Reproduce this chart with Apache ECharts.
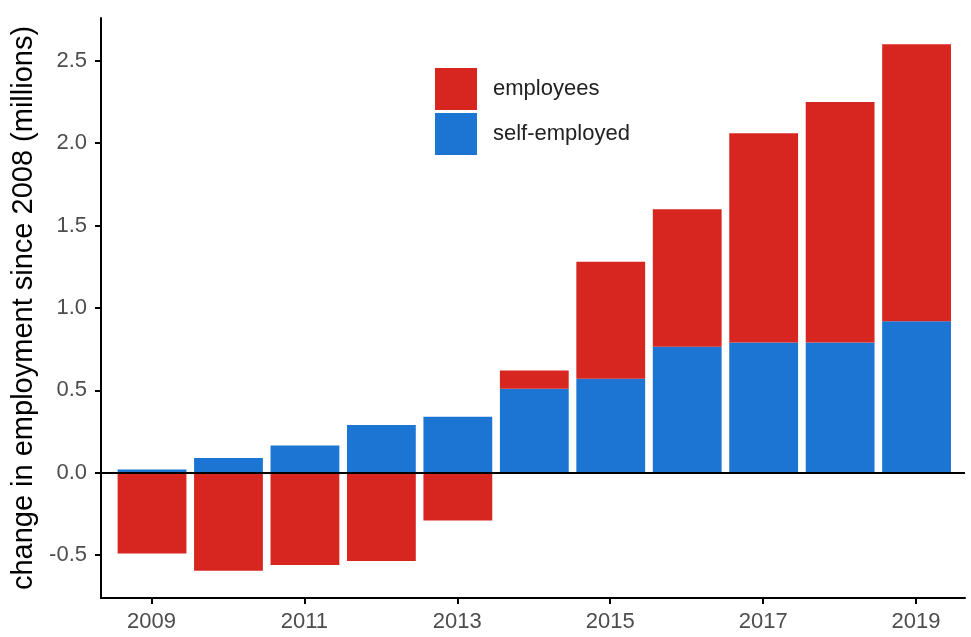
<!DOCTYPE html>
<html>
<head>
<meta charset="utf-8">
<script src="https://cdn.jsdelivr.net/npm/echarts@6/dist/echarts.min.js"></script>
<style>html,body{margin:0;padding:0;background:#fff;}#c{width:971px;height:637px;}</style>
</head>
<body>
<div id="c"></div>
<script>
const years = ['2009', '2010', '2011', '2012', '2013', '2014', '2015', '2016', '2017', '2018', '2019'];
const selfEmployed = [0.02, 0.09, 0.165, 0.29, 0.34, 0.51, 0.57, 0.765, 0.79, 0.79, 0.92];
const employees = [-0.49, -0.595, -0.56, -0.535, -0.29, 0.11, 0.71, 0.835, 1.27, 1.46, 1.68];
const xTickLabels = [2009, 2011, 2013, 2015, 2017, 2019];
const yTickValues = [-0.5, 0, 0.5, 1.0, 1.5, 2.0, 2.5];

const FONT = '"Liberation Sans", Arial, Helvetica, sans-serif';
const RED = '#d7261f';
const BLUE = '#1c74d3';
const YMIN = -0.76, YMAX = 2.76;

const chart = echarts.init(document.getElementById('c'), null, {renderer: 'canvas'});
chart.setOption({
  animation: false,
  backgroundColor: '#ffffff',
  textStyle: {fontFamily: FONT},
  grid: [
    {left: 101, right: 6, top: 18, bottom: 39, containLabel: false},
    {left: 113.8, right: 16.2, top: 18, bottom: 39, containLabel: false}
  ],
  legend: {
    orient: 'vertical',
    left: 435, top: 68, padding: 0,
    itemWidth: 42, itemHeight: 42, itemGap: 3,
    icon: 'rect',
    data: ['employees', 'self-employed'],
    textStyle: {fontFamily: FONT, fontSize: 22, color: '#222', padding: [0, 0, 0, 11]}
  },
  xAxis: [
    {
      gridIndex: 0,
      type: 'value',
      min: 2008.34, max: 2019.64,
      axisLine: {show: true, onZero: false, lineStyle: {color: '#000', width: 2}},
      axisTick: {show: true, length: 6, customValues: xTickLabels, lineStyle: {color: '#000', width: 2}},
      axisLabel: {customValues: xTickLabels, fontSize: 22, color: '#4d4d4d', margin: 13, fontFamily: FONT,
        formatter: v => String(v)},
      splitLine: {show: false}
    },
    {
      gridIndex: 1,
      type: 'category',
      data: years,
      show: false
    }
  ],
  yAxis: [
    {
      gridIndex: 0,
      type: 'value',
      min: YMIN, max: YMAX,
      name: 'change in employment since 2008 (millions)',
      nameLocation: 'middle',
      nameGap: 62,
      nameTextStyle: {fontSize: 29, color: '#000', fontFamily: FONT},
      axisLine: {show: true, onZero: false, lineStyle: {color: '#000', width: 2}},
      axisTick: {show: true, length: 6, customValues: yTickValues, lineStyle: {color: '#000', width: 2}},
      axisLabel: {customValues: yTickValues, fontSize: 22, color: '#4d4d4d', margin: 14, fontFamily: FONT,
        formatter: v => v.toFixed(1)},
      splitLine: {show: false}
    },
    {
      gridIndex: 1,
      type: 'value',
      min: YMIN, max: YMAX,
      show: false,
      splitLine: {show: false}
    }
  ],
  series: [
    {
      name: 'self-employed',
      type: 'bar',
      xAxisIndex: 1, yAxisIndex: 1,
      stack: 'total',
      barWidth: '90%',
      itemStyle: {color: BLUE},
      data: selfEmployed
    },
    {
      name: 'employees',
      type: 'bar',
      xAxisIndex: 1, yAxisIndex: 1,
      stack: 'total',
      barWidth: '90%',
      itemStyle: {color: RED},
      data: employees
    },
    {
      name: 'zero',
      type: 'line',
      xAxisIndex: 0, yAxisIndex: 0,
      z: 5,
      silent: true,
      symbol: 'none',
      lineStyle: {opacity: 0},
      data: xTickLabels.map(y => [y, 0]),
      markLine: {
        silent: true,
        symbol: 'none',
        label: {show: false},
        lineStyle: {color: '#000', width: 2, type: 'solid'},
        data: [{yAxis: 0}]
      }
    }
  ]
});
</script>
</body>
</html>
